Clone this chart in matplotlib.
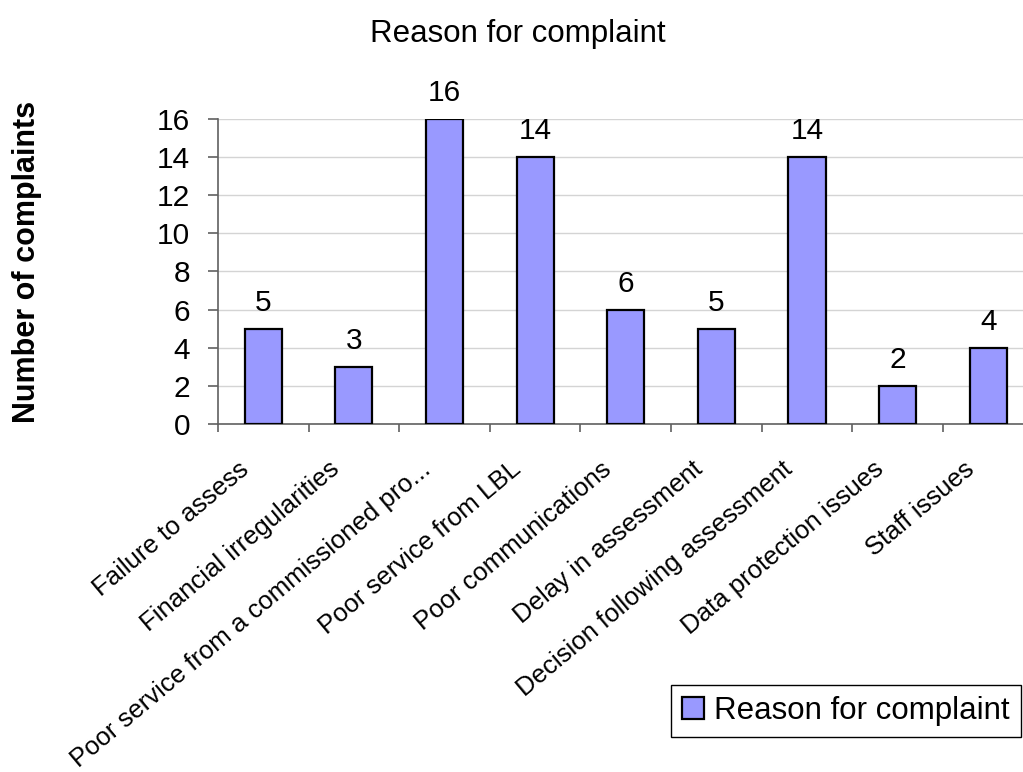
import matplotlib
matplotlib.use("Agg")
import matplotlib.pyplot as plt
import numpy as np

plt.rcParams['font.family'] = ['Liberation Sans', 'DejaVu Sans']

categories = ["Failure to assess",
              "Financial irregularities",
              "Poor service from a commissioned pro...",
              "Poor service from LBL",
              "Poor communications",
              "Delay in assessment",
              "Decision following assessment",
              "Data protection issues",
              "Staff issues"]
counts = [5, 3, 16, 14, 6, 5, 14, 2, 4]
yticks = [0, 2, 4, 6, 8, 10, 12, 14, 16]

W, H = 1023, 772
fig = plt.figure(figsize=(W / 100, H / 100), dpi=100)

# plot area runs a little past the right edge, as in the exported sheet
ax = fig.add_axes([218 / W, 1 - 424 / H, 815.5 / W, 305 / H])

x = np.arange(len(categories))
bars = ax.bar(x, counts, width=0.41, color='#9999ff', edgecolor='black',
              linewidth=1.6, zorder=3, label="Reason for complaint")

ax.set_xlim(-0.5, len(categories) - 0.5)
ax.set_ylim(0, 16)
ax.set_yticks(yticks)
ax.set_yticklabels([str(v) for v in yticks], fontsize=21.5)
ax.grid(axis='y', color='#d4d4d4', linewidth=1.0, zorder=0)

for side in ['top', 'right']:
    ax.spines[side].set_visible(False)
for side in ['left', 'bottom']:
    ax.spines[side].set_color('#606060')
    ax.spines[side].set_linewidth(1.2)

ax.tick_params(axis='y', direction='out', length=7, width=1.2, color='#606060', pad=13)

# ticks sit between categories; labels are placed by hand below
ax.set_xticks(np.arange(-0.5, len(categories), 1.0))
ax.set_xticklabels([])
ax.tick_params(axis='x', direction='out', length=5.5, width=1.2, color='#606060')

for i, name in enumerate(categories):
    ax.annotate(name, xy=(i, 0), xytext=(-25, -33), textcoords='offset pixels',
                rotation=40, ha='right', va='top', rotation_mode='anchor',
                fontsize=18.5, annotation_clip=False)

for b, v in zip(bars, counts):
    ax.annotate(str(v), xy=(b.get_x() + b.get_width() / 2, v), xytext=(0, 12),
                textcoords='offset pixels', ha='center', va='bottom', fontsize=21.5)

fig.text(518 / W, 1 - 42 / H, "Reason for complaint", ha='center', va='baseline',
         fontsize=22.5)
fig.text(27 / W, 1 - 262 / H, "Number of complaints", ha='center', va='center',
         rotation=90, fontsize=22, fontweight='bold')

leg = fig.legend(handles=[bars], labels=["Reason for complaint"],
                 loc='lower right', bbox_to_anchor=(1021 / W, 1 - 737 / H),
                 borderaxespad=0, fontsize=22.5, fancybox=False, framealpha=1,
                 handlelength=0.68, handleheight=0.7, handletextpad=0.35,
                 borderpad=0.35)
leg.get_frame().set_edgecolor('black')
leg.get_frame().set_linewidth(1.0)

fig.savefig("out.png", dpi=100)
